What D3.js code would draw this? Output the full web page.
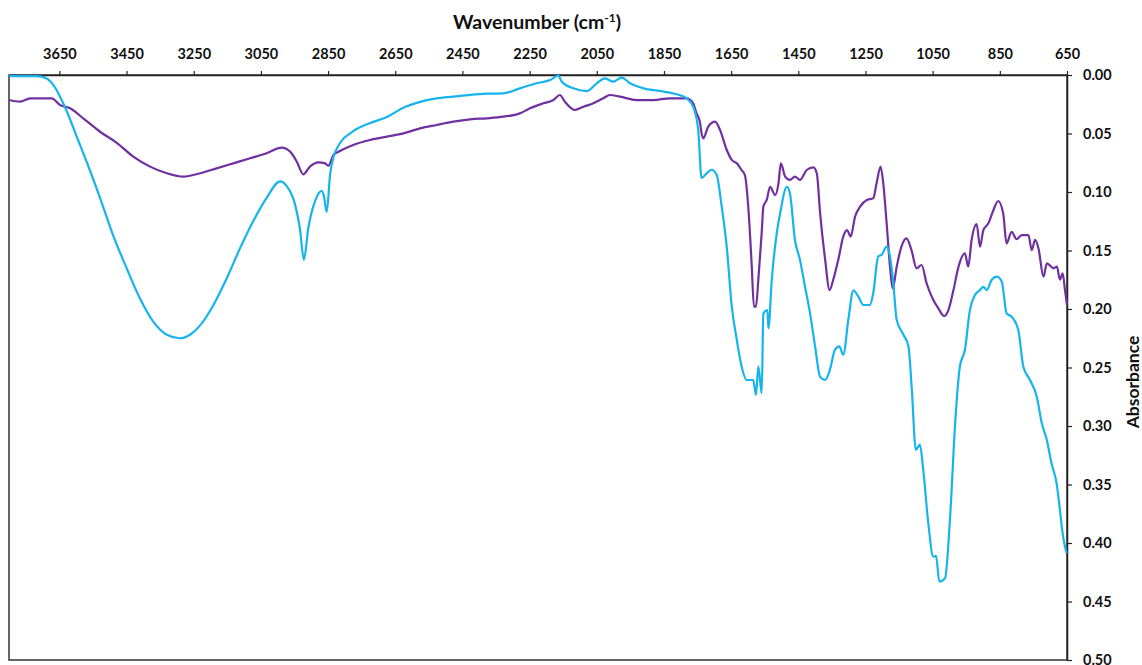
<!DOCTYPE html>
<html>
<head>
<meta charset="utf-8">
<script src="https://cdn.jsdelivr.net/npm/d3@7"></script>
<style>
  html, body { margin: 0; padding: 0; background: #fff; }
  svg { display: block; }
  text { font-family: Lato, "Open Sans", sans-serif; font-weight: bold; fill: #111; }
</style>
</head>
<body>
<svg id="chart" width="1142" height="665"></svg>
<script>
// FTIR absorbance spectra: [wavenumber (cm-1), absorbance]
const cyanSpectrum = [
  [3800,0.001],[3717,0.001],[3688,0.003],[3668,0.0085],[3648,0.0185],[3628,0.031],
  [3598,0.053],[3569,0.074],[3529,0.105],[3490,0.137],[3450,0.165],[3410,0.191],
  [3370,0.211],[3330,0.222],[3291,0.225],[3261,0.222],[3231,0.214],[3192,0.197],
  [3152,0.174],[3112,0.148],[3073,0.125],[3033,0.105],[2993,0.091],[2973,0.095],
  [2948,0.111],[2934,0.131],[2922,0.158],[2909,0.131],[2889,0.108],[2869,0.099],
  [2862,0.104],[2854,0.117],[2844,0.085],[2834,0.070],[2824,0.063],[2775,0.048],
  [2725,0.041],[2675,0.036],[2626,0.028],[2576,0.023],[2527,0.020],[2477,0.0185],
  [2427,0.017],[2378,0.016],[2328,0.0157],[2279,0.0114],[2229,0.0071],[2189,0.0043],
  [2165,0.0006],[2154,0.0057],[2120,0.0114],[2080,0.0137],[2050,0.0071],[2026,0.0028],
  [2001,0.0057],[1976,0.0023],[1951,0.0071],[1911,0.0114],[1862,0.0137],[1812,0.0165],
  [1782,0.020],[1763,0.027],[1748,0.047],[1738,0.088],[1723,0.084],[1708,0.081],
  [1693,0.0855],[1678,0.1125],[1663,0.147],[1648,0.198],[1633,0.2265],[1619,0.249],
  [1604,0.2607],[1584,0.2607],[1576,0.2735],[1569,0.249],[1559,0.272],[1554,0.2037],
  [1542,0.2009],[1539,0.2165],[1529,0.175],[1514,0.135],[1504,0.118],[1484,0.0955],
  [1475,0.101],[1460,0.141],[1445,0.158],[1430,0.181],[1415,0.2037],[1400,0.232],
  [1385,0.258],[1370,0.2607],[1356,0.252],[1341,0.235],[1328,0.232],[1316,0.239],
  [1301,0.209],[1286,0.184],[1271,0.1895],[1256,0.1966],[1237,0.1966],[1227,0.1866],
  [1212,0.155],[1202,0.1538],[1187,0.1467],[1177,0.155],[1167,0.178],[1157,0.2094],
  [1137,0.222],[1122,0.232],[1112,0.269],[1100,0.3205],[1088,0.316],[1078,0.3376],
  [1063,0.383],[1048,0.4117],[1040,0.411],[1030,0.433],[1013,0.430],[998,0.3775],
  [983,0.2977],[969,0.2493],[954,0.235],[939,0.2009],[924,0.188],[909,0.1838],
  [899,0.181],[889,0.1838],[874,0.175],[859,0.1724],[844,0.1767],[830,0.2037],
  [815,0.2066],[795,0.218],[780,0.2493],[760,0.2607],[740,0.275],[725,0.2977],
  [710,0.312],[696,0.332],[681,0.349],[671,0.3718],[663,0.3917],[656,0.403],[651,0.4088]
];

const purpleSpectrum = [
  [3800,0.0214],[3767,0.0228],[3737,0.020],[3708,0.020],[3673,0.020],[3648,0.0256],
  [3618,0.0285],[3579,0.037],[3529,0.0485],[3479,0.058],[3430,0.0698],[3380,0.0783],
  [3330,0.084],[3281,0.0869],[3231,0.084],[3182,0.0798],[3132,0.0755],[3082,0.0712],
  [3033,0.0669],[2988,0.0621],[2963,0.0655],[2943,0.0741],[2924,0.0849],[2904,0.0783],
  [2879,0.0746],[2859,0.0755],[2849,0.0775],[2834,0.0684],[2815,0.065],[2775,0.0598],
  [2725,0.0556],[2675,0.0527],[2626,0.0499],[2576,0.0456],[2527,0.0427],[2477,0.0399],
  [2427,0.0379],[2378,0.037],[2328,0.0356],[2279,0.0328],[2249,0.0285],[2209,0.0242],
  [2179,0.0214],[2160,0.0171],[2145,0.0228],[2115,0.0299],[2090,0.0271],[2060,0.0242],
  [2031,0.0199],[2011,0.0171],[1981,0.0185],[1931,0.0214],[1882,0.0214],[1832,0.0199],
  [1782,0.0199],[1763,0.0242],[1753,0.0328],[1743,0.0399],[1738,0.0499],[1733,0.0541],
  [1718,0.0442],[1698,0.0399],[1683,0.047],[1663,0.0641],[1648,0.0726],[1633,0.0755],
  [1619,0.0812],[1609,0.0855],[1599,0.1125],[1589,0.161],[1582,0.198],[1576,0.198],
  [1569,0.175],[1559,0.135],[1554,0.1125],[1544,0.1068],[1534,0.0955],[1519,0.1026],
  [1509,0.0926],[1502,0.0755],[1489,0.0869],[1475,0.0897],[1460,0.0869],[1445,0.0897],
  [1425,0.0812],[1405,0.0789],[1395,0.084],[1385,0.1182],[1370,0.158],[1357,0.1838],
  [1346,0.175],[1331,0.158],[1316,0.138],[1305,0.1325],[1294,0.138],[1281,0.121],
  [1266,0.1125],[1246,0.1068],[1227,0.1054],[1217,0.0926],[1205,0.0783],[1197,0.0926],
  [1187,0.1268],[1177,0.1638],[1169,0.1823],[1157,0.1638],[1143,0.1467],[1128,0.1396],
  [1113,0.1496],[1098,0.1652],[1083,0.1624],[1068,0.178],[1048,0.1923],[1033,0.1994],
  [1016,0.206],[1003,0.2009],[988,0.1838],[973,0.1638],[954,0.1524],[944,0.1638],
  [934,0.141],[919,0.1274],[909,0.1467],[899,0.1325],[884,0.1268],[869,0.1154],
  [855,0.1077],[840,0.1182],[830,0.1439],[815,0.134],[800,0.1404],[785,0.1368],
  [765,0.1368],[755,0.1496],[745,0.141],[735,0.1481],[720,0.1724],[710,0.161],
  [690,0.1652],[680,0.1638],[671,0.175],[663,0.1695],[656,0.1838],[650,0.1966]
];

const xTicks = [3650, 3450, 3250, 3050, 2850, 2650, 2450, 2250, 2050, 1850, 1650, 1450, 1250, 1050, 850, 650];
const yTicks = [0, 0.05, 0.10, 0.15, 0.20, 0.25, 0.30, 0.35, 0.40, 0.45, 0.50];
const xDomain = [3800, 650];
const yDomain = [0, 0.5];

const plot = { left: 9, right: 1067, top: 75, bottom: 660 };

const svg = d3.select("#chart");

const x = d3.scaleLinear().domain(xDomain).range([plot.left, plot.right]);
const y = d3.scaleLinear().domain(yDomain).range([plot.top, plot.bottom]);

// plot frame
svg.append("rect")
  .attr("x", plot.left).attr("y", plot.top)
  .attr("width", plot.right - plot.left).attr("height", plot.bottom - plot.top)
  .attr("fill", "none").attr("stroke", "#333").attr("stroke-width", 1.5);

// top wavenumber axis
const xAxis = svg.append("g")
  .attr("transform", `translate(0,${plot.top})`)
  .call(d3.axisTop(x).tickValues(xTicks).tickFormat(d3.format("d")).tickSize(4).tickSizeOuter(0));
xAxis.select(".domain").attr("stroke", "#222").attr("stroke-width", 1.5);
xAxis.selectAll(".tick line").attr("stroke", "#222").attr("stroke-width", 1.2);
xAxis.selectAll(".tick text").attr("font-size", 14.5).attr("dy", "-0.6em").attr("fill", "#111")
  .attr("font-family", "Lato, 'Open Sans', sans-serif").attr("font-weight", "bold");

// right absorbance axis
const yAxis = svg.append("g")
  .attr("transform", `translate(${plot.right},0)`)
  .call(d3.axisRight(y).tickValues(yTicks).tickFormat(d3.format(".2f")).tickSize(5).tickSizeOuter(0));
yAxis.select(".domain").attr("stroke", "#222").attr("stroke-width", 1.5);
yAxis.selectAll(".tick line").attr("stroke", "#222").attr("stroke-width", 1.2);
yAxis.selectAll(".tick text").attr("font-size", 14.5).attr("x", 16).attr("fill", "#111")
  .attr("font-family", "Lato, 'Open Sans', sans-serif").attr("font-weight", "bold");

// axis titles
const xt = svg.append("text")
  .attr("x", 537).attr("y", 29)
  .attr("text-anchor", "middle").attr("font-size", 19.5);
xt.append("tspan").text("Wavenumber (cm");
xt.append("tspan").attr("font-size", 12).attr("dy", -7).text("-1");
xt.append("tspan").attr("dy", 7).text(")");

svg.append("text")
  .attr("transform", `translate(1139,382) rotate(-90)`)
  .attr("text-anchor", "middle").attr("font-size", 17.5).text("Absorbance");

// spectra
const line = d3.line()
  .x(d => x(d[0]))
  .y(d => y(d[1]))
  .curve(d3.curveMonotoneX);

const g = svg.append("g");
g.append("path").datum(purpleSpectrum)
  .attr("fill", "none").attr("stroke", "#7030A0").attr("stroke-width", 2.2).attr("d", line);
g.append("path").datum(cyanSpectrum)
  .attr("fill", "none").attr("stroke", "#16B4EE").attr("stroke-width", 2.2).attr("d", line);
</script>
</body>
</html>
